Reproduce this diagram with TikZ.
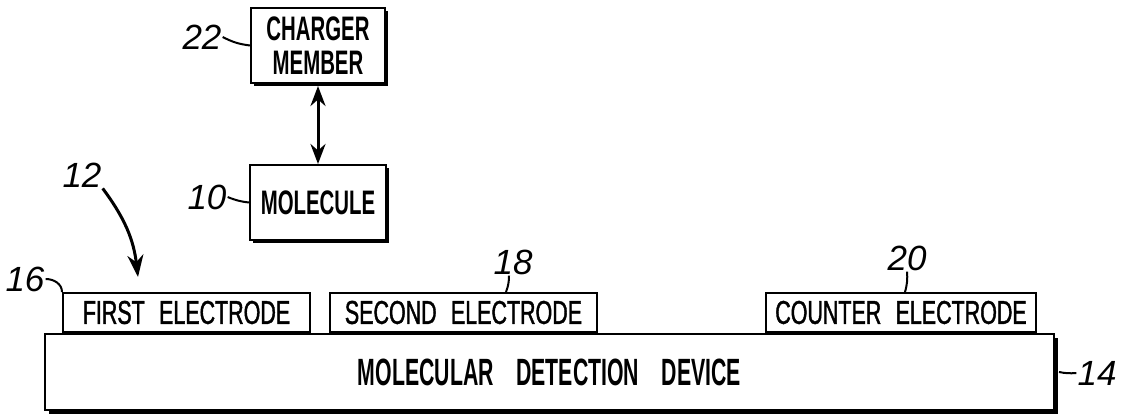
\documentclass[tikz,border=0pt]{standalone}
\usepackage{fontspec}
\newfontfamily\boxfont[FakeStretch=0.6,WordSpace=2.6]{Liberation Sans}
\newfontfamily\elfont[FakeStretch=0.65,WordSpace=2.4,FakeBold=1.2]{Liberation Sans}
\newfontfamily\devfont[FakeStretch=0.56,WordSpace=3.8]{Liberation Sans}
\newfontfamily\reffont{Liberation Sans}
\usetikzlibrary{arrows.meta,positioning,shadows}

\begin{document}
\begin{tikzpicture}[
    x=1pt, y=1pt,
    node distance=18pt,
    block/.style={rectangle, draw, fill=white, line width=2pt, inner sep=0pt, minimum width=134pt, minimum height=75pt, align=center, font=\boxfont\bfseries\fontsize{34}{34}\selectfont, drop shadow={shadow xshift=3pt, shadow yshift=-3pt, fill=black, opacity=1}},
    electrode/.style={rectangle, draw, fill=white, line width=2pt, inner sep=0pt, minimum height=39pt, font=\elfont\fontsize{33}{33}\selectfont},
    refnum/.style={font=\reffont\itshape\fontsize{35}{35}\selectfont, inner sep=1pt},
    leader/.style={line width=2pt},
    arrow/.style={line width=3pt, -{Stealth[length=22pt,width=16pt]}}
]
\useasboundingbox (0,0) rectangle (1123,415);

% Device and electrodes
\node[rectangle, draw, fill=white, line width=2pt, minimum width=1009pt, minimum height=76pt, inner sep=0pt,
      font=\devfont\bfseries\fontsize{38}{38}\selectfont,
      drop shadow={shadow xshift=3.5pt, shadow yshift=-3.5pt, fill=black, opacity=1}] (device) at (549.5,43) {MOLECULAR DETECTION DEVICE};
\node[electrode, minimum width=247pt, above right=0pt and 18pt of device.north west] (first) {FIRST ELECTRODE};
\node[electrode, minimum width=267pt, right=18pt of first] (second) {SECOND ELECTRODE};
\node[electrode, minimum width=270pt, above left=0pt and 18pt of device.north east] (counter) {COUNTER ELECTRODE};

% Charger and molecule
\node[block] (charger) at (318,369.5) {CHARGER\\MEMBER};
\node[block, minimum width=136pt, below=80pt of charger] (molecule) {MOLECULE};
\draw[line width=3pt, {Stealth[length=20pt,width=15pt]}-{Stealth[length=20pt,width=15pt]}] ([yshift=-2pt]charger.south) -- (molecule.north);

% Reference numerals
\node[refnum] (n22) at (202,378) {22};
\node[refnum] (n10) at (207,218) {10};
\node[refnum] (n12) at (82,240) {12};
\node[refnum] (n16) at (25,136) {16};
\node[refnum] (n18) at (513,153) {18};
\node[refnum] (n20) at (907,157) {20};
\node[refnum] (n14) at (1097,42) {14};

\draw[leader] (n22.east) to[bend right=10] (charger.west);
\draw[leader] (n10.east) to[bend right=8] (molecule.west);
\draw[leader] (n16.east) to[out=0, in=90] (first.north west);
\draw[leader] ([xshift=-4pt]n18.south) to[bend left=10] ([xshift=-7pt]n18.south |- second.north);
\draw[leader] (n20.south) to[bend left=10] ([xshift=-2pt]n20.south |- counter.north);
\draw[leader] (n14.west) to[bend left=8] ([xshift=4pt]device.east);

\coordinate (p12) at (138,138);
\draw[arrow] (n12.south east) to[bend left=15] (p12);

\end{tikzpicture}
\end{document}
